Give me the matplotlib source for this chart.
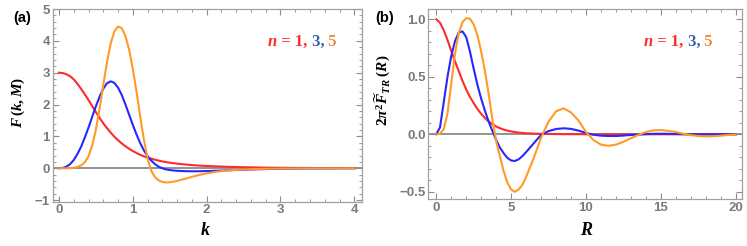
import matplotlib
matplotlib.use("Agg")
import matplotlib.pyplot as plt
from matplotlib.ticker import MultipleLocator

# panel (a): F(k, M)
k_vals = [0.0, 0.05, 0.10, 0.15, 0.20, 0.25, 0.30, 0.35, 0.40, 0.45, 0.50,
          0.55, 0.60, 0.65, 0.70, 0.75, 0.80, 0.85, 0.90, 0.95, 1.00,
          1.05, 1.10, 1.15, 1.20, 1.25, 1.30, 1.35, 1.40, 1.45, 1.50,
          1.55, 1.60, 1.7, 1.8, 1.9, 2.0, 2.1, 2.2, 2.3, 2.4, 2.5, 2.6,
          2.8, 3.0, 3.3, 3.6, 4.0]
F_n1 = [3.00, 2.99, 2.95, 2.89, 2.79, 2.65, 2.49, 2.32, 2.14, 1.95, 1.76,
        1.58, 1.41, 1.26, 1.12, 0.99, 0.88, 0.78, 0.69, 0.61, 0.54,
        0.48, 0.42, 0.375, 0.335, 0.30, 0.27, 0.24, 0.215, 0.195, 0.175,
        0.16, 0.145, 0.12, 0.10, 0.085, 0.072, 0.062, 0.053, 0.045, 0.039, 0.033, 0.028,
        0.02, 0.015, 0.01, 0.006, 0.004]
F_n3 = [0.0, 0.01, 0.05, 0.13, 0.26, 0.45, 0.68, 0.97, 1.28, 1.62, 1.95,
        2.25, 2.50, 2.67, 2.73, 2.68, 2.53, 2.30, 2.00, 1.68, 1.36,
        1.06, 0.79, 0.56, 0.38, 0.24, 0.13, 0.05, 0.0, -0.035, -0.055,
        -0.07, -0.08, -0.09, -0.095, -0.093, -0.088, -0.08, -0.072, -0.063, -0.054, -0.045, -0.037,
        -0.025, -0.016, -0.008, -0.004, -0.001]
F_n5 = [0.0, 0.0, 0.0, 0.005, 0.015, 0.04, 0.09, 0.19, 0.38, 0.72, 1.22,
        1.88, 2.62, 3.33, 3.92, 4.30, 4.45, 4.40, 4.15, 3.72, 3.12,
        2.40, 1.62, 0.90, 0.30, -0.08, -0.28, -0.38, -0.43, -0.445, -0.44,
        -0.42, -0.395, -0.335, -0.27, -0.21, -0.16, -0.12, -0.09, -0.065, -0.05, -0.037, -0.028,
        -0.016, -0.009, -0.004, -0.002, 0.0]

# panel (b): 2 pi^2 F~_TR(R)
R_vals = [0.0, 0.25, 0.5, 0.75, 1.0, 1.25, 1.5, 1.75, 2.0, 2.25, 2.5, 2.75,
          3.0, 3.25, 3.5, 3.75, 4.0, 4.25, 4.5, 4.75, 5.0, 5.25, 5.5, 5.75,
          6.0, 6.5, 7.0, 7.5, 8.0, 8.5, 9.0, 9.5, 10.0, 10.5, 11.0, 11.5,
          12.0, 12.5, 13.0, 13.5, 14.0, 14.5, 15.0, 15.5, 16.0, 16.5, 17.0,
          17.5, 18.0, 18.5, 19.0, 19.5, 20.0]
T_n1 = [1.0, 0.97, 0.905, 0.82, 0.725, 0.635, 0.55, 0.465, 0.39, 0.325, 0.27, 0.22,
        0.178, 0.142, 0.112, 0.087, 0.068, 0.053, 0.041, 0.032, 0.025, 0.019, 0.015, 0.012,
        0.009, 0.006, 0.004, 0.003, 0.002, 0.001, 0.001, 0.001, 0.0, 0.0, 0.0, 0.0,
        0.0, 0.0, 0.0, 0.0, 0.0, 0.0, 0.0, 0.0, 0.0, 0.0, 0.0,
        0.0, 0.0, 0.0, 0.0, 0.0, 0.0]
T_n3 = [0.0, 0.06, 0.28, 0.50, 0.68, 0.81, 0.885, 0.895, 0.845, 0.72, 0.57, 0.43,
        0.31, 0.205, 0.11, 0.03, -0.05, -0.115, -0.165, -0.205, -0.228, -0.232, -0.218, -0.19,
        -0.155, -0.08, -0.005, 0.028, 0.046, 0.052, 0.047, 0.032, 0.012, -0.004, -0.012, -0.015,
        -0.015, -0.011, -0.006, -0.002, 0.002, 0.004, 0.005, 0.004, 0.003, 0.001, 0.0,
        -0.001, -0.001, -0.001, 0.0, 0.0, 0.0]
T_n5 = [0.0, 0.005, 0.045, 0.18, 0.44, 0.70, 0.88, 0.975, 1.01, 1.005, 0.955, 0.86,
        0.72, 0.55, 0.35, 0.13, -0.06, -0.19, -0.32, -0.42, -0.48, -0.50, -0.48, -0.44,
        -0.37, -0.21, -0.03, 0.11, 0.20, 0.226, 0.19, 0.12, 0.02, -0.05, -0.09, -0.10,
        -0.09, -0.065, -0.035, -0.005, 0.02, 0.034, 0.037, 0.03, 0.02, 0.005, -0.007,
        -0.015, -0.018, -0.017, -0.012, -0.006, -0.002]

c_red = "#ff2b2b"
c_blue = "#2727ff"
c_orange = "#ff9a26"
grey = "#8c8c8c"

plt.rcParams["mathtext.fontset"] = "custom"
plt.rcParams["mathtext.rm"] = "Liberation Serif:bold"
plt.rcParams["mathtext.it"] = "Liberation Serif:bold:italic"
plt.rcParams["mathtext.bf"] = "Liberation Serif:bold"

fig = plt.figure(figsize=(7.47, 2.46), dpi=100)
ax1 = fig.add_axes([0.0705, 0.180, 0.4137, 0.7834])
ax2 = fig.add_axes([0.5734, 0.190, 0.4195, 0.7736])


def style(ax, xmaj, xmin, ymaj, ymin):
    ax.xaxis.set_major_locator(MultipleLocator(xmaj))
    ax.xaxis.set_minor_locator(MultipleLocator(xmin))
    ax.yaxis.set_major_locator(MultipleLocator(ymaj))
    ax.yaxis.set_minor_locator(MultipleLocator(ymin))
    ax.tick_params(which="both", direction="in", top=True, right=True,
                   colors=grey, labelcolor="#7a7a7a", pad=2)
    ax.tick_params(which="major", length=4, width=0.8)
    ax.tick_params(which="minor", length=2, width=0.6)
    for lab in ax.get_xticklabels() + ax.get_yticklabels():
        lab.set_fontfamily("Liberation Sans")
        lab.set_fontweight("bold")
        lab.set_fontsize(9.5)
    for s in ax.spines.values():
        s.set_color("#a0a0a0")
        s.set_linewidth(0.9)
    ax.axhline(0, color="#8a8a8a", lw=1.3, zorder=1)


ax1.plot(k_vals, F_n1, color=c_red, lw=1.5)
ax1.plot(k_vals, F_n3, color=c_blue, lw=1.5)
ax1.plot(k_vals, F_n5, color=c_orange, lw=1.5)
ax1.set_xlim(-0.086, 4.1)
ax1.set_ylim(-1.05, 5.0)
style(ax1, 1, 0.2, 1, 0.2)
ax1.set_xticks([0, 1, 2, 3, 4])
ax1.set_xticklabels(["0", "1", "2", "3", "4"])
ax1.set_yticks([-1, 0, 1, 2, 3, 4, 5])
ax1.set_yticklabels(["\u22121", "0", "1", "2", "3", "4", "5"])

ax2.plot(R_vals, T_n1, color=c_red, lw=1.5)
ax2.plot(R_vals, T_n3, color=c_blue, lw=1.5)
ax2.plot(R_vals, T_n5, color=c_orange, lw=1.5)
ax2.set_xlim(-0.53, 20.4)
ax2.set_ylim(-0.565, 1.09)
style(ax2, 5, 1, 0.5, 0.1)
ax2.set_yticks([-0.5, 0.0, 0.5, 1.0])
ax2.set_yticklabels(["\u22120.5", "0.0", "0.5", "1.0"])

for ax in (ax1, ax2):
    for lab in ax.get_xticklabels() + ax.get_yticklabels():
        lab.set_fontfamily("Liberation Sans")
        lab.set_fontweight("bold")
        lab.set_fontsize(9.5)

# panel letters
fig.text(13 / 747, 1 - 18 / 246, "(a)", fontsize=10.5, fontweight="bold",
         family="Liberation Sans", va="center", ha="left")
fig.text(375 / 747, 1 - 18 / 246, "(b)", fontsize=10.5, fontweight="bold",
         family="Liberation Sans", va="center", ha="left")

# axis labels
ax1.text(-0.112, 0.517, r"$F\,(k,M)$", transform=ax1.transAxes, rotation=90,
         ha="center", va="center", fontsize=11)
ax2.text(-0.145, 0.574, r"$2\pi^2\widetilde{F}_{TR}\;(R)$", transform=ax2.transAxes,
         rotation=90, ha="center", va="center", fontsize=11)
fig.text(205 / 747, 1 - 230 / 246, r"$k$", ha="center", va="center", fontsize=13)
fig.text(587 / 747, 1 - 230 / 246, r"$R$", ha="center", va="center", fontsize=13)

# coloured "n = 1, 3, 5"
renderer = fig.canvas.get_renderer()
pieces = [(r"$n$", c_red), (r" = 1,", c_red), (" 3,", "#3a62aa"), (" 5", "#ee8a3c")]


def draw_pieces(x0, y0):
    x = x0
    for s, c in pieces:
        t = fig.text(x, y0, s, color=c, fontsize=12, family="Liberation Serif",
                     fontweight="bold", ha="left", va="baseline")
        bb = t.get_window_extent(renderer=renderer)
        x += bb.width / fig.bbox.width


draw_pieces(267 / 747, 1 - 46 / 246)
draw_pieces(643 / 747, 1 - 46 / 246)

fig.savefig("out.png", dpi=100)
